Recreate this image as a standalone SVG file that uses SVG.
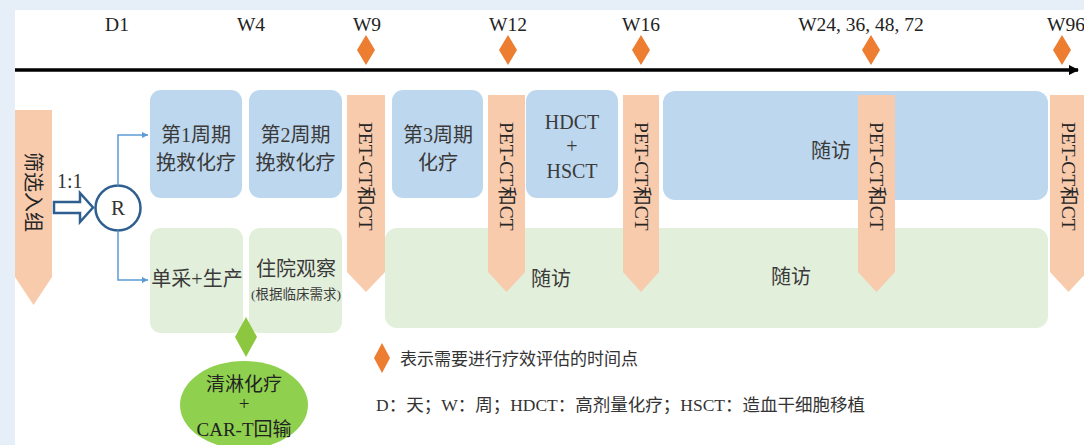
<svg xmlns="http://www.w3.org/2000/svg" width="1084" height="445" viewBox="0 0 1084 445">
<defs>
<style>
.t{font-family:"Liberation Serif","Noto Sans CJK SC",serif;fill:#333;}
.lab{font-size:19.5px;text-anchor:middle;fill:#222;}
.box{font-size:20px;text-anchor:middle;fill:#3a3a3a;}
.blue{fill:#bdd7ee;}
.green{fill:#e2efda;}
.pet{fill:#f8cbad;}
.pettxt{font-size:19.5px;fill:#262626;}
.dia{fill:#ed7d31;}
.conn{fill:none;stroke:#5b9bd5;stroke-width:1.5;}
</style>
<marker id="ah" markerWidth="8" markerHeight="8" refX="6" refY="4" orient="auto" markerUnits="userSpaceOnUse">
<path d="M0,1 L6,4 L0,7 Z" fill="#5b9bd5"/>
</marker>
<marker id="tl" markerWidth="12" markerHeight="12" refX="9" refY="6" orient="auto" markerUnits="userSpaceOnUse">
<path d="M0,1 L10,6 L0,11 Z" fill="#000"/>
</marker>
</defs>
<rect x="0" y="0" width="1084" height="445" fill="#e6eef7"/>
<rect x="15" y="10" width="1069" height="435" fill="#ffffff"/>

<g id="timeline">
<line x1="15" y1="70" x2="1078" y2="70" stroke="#000" stroke-width="3.5" marker-end="url(#tl)"/>
<text class="t lab" x="117" y="31">D1</text>
<text class="t lab" x="251" y="31">W4</text>
<text class="t lab" x="367" y="31">W9</text>
<text class="t lab" x="508" y="31">W12</text>
<text class="t lab" x="641" y="31">W16</text>
<text class="t lab" x="861" y="31">W24, 36, 48, 72</text>
<text class="t lab" x="1066" y="31">W96</text>
<path class="dia" d="M366,35 L375,50 L366,65 L357,50 Z"/>
<path class="dia" d="M508,35 L517,50 L508,65 L499,50 Z"/>
<path class="dia" d="M641,35 L650,50 L641,65 L632,50 Z"/>
<path class="dia" d="M871,35 L880,50 L871,65 L862,50 Z"/>
<path class="dia" d="M1062,35 L1071,50 L1062,65 L1053,50 Z"/>
</g>

<g id="screening">
<path class="pet" d="M15,110 L52,110 L52,277 L33.5,305 L15,277 Z"/>
<text class="t pettxt" transform="translate(26,152) rotate(90)" style="font-size:20px">筛选入组</text>
</g>

<g id="split">
<path d="M54,202 L80,202 L80,193 L93,207.5 L80,222 L80,213 L54,213 Z" fill="#fff" stroke="#2e5f8f" stroke-width="2.5" stroke-linejoin="miter"/>
<text class="t" x="57" y="188" style="font-size:20px">1:1</text>
</g>

<g id="R">
<circle cx="118" cy="208" r="22.5" fill="#fff" stroke="#2e5f8f" stroke-width="2.5"/>
<text class="t" x="118" y="215" style="font-size:21px" text-anchor="middle">R</text>
</g>

<g id="connectors">
<path class="conn" d="M118,185.5 L118,135 L148,135" marker-end="url(#ah)"/>
<path class="conn" d="M118,230.5 L118,280 L148,280" marker-end="url(#ah)"/>
</g>

<g id="c1">
<rect class="blue" x="150" y="90" width="92" height="108" rx="11"/>
<text class="t box" x="196" y="142">第1周期</text>
<text class="t box" x="196" y="170">挽救化疗</text>
</g>
<g id="c2">
<rect class="blue" x="249" y="90" width="93" height="108" rx="11"/>
<text class="t box" x="295.5" y="142">第2周期</text>
<text class="t box" x="295.5" y="170">挽救化疗</text>
</g>
<g id="apheresis">
<rect class="green" x="150" y="228" width="93" height="105" rx="11"/>
<text class="t box" x="197" y="286">单采+生产</text>
</g>
<g id="observe">
<rect class="green" x="249" y="228" width="93" height="105" rx="11"/>
<text class="t box" x="296" y="276">住院观察</text>
<text class="t box" x="296" y="299" style="font-size:13.5px">(根据临床需求)</text>
</g>

<g id="c3">
<rect class="blue" x="392" y="90" width="91" height="108" rx="11"/>
<text class="t box" x="438" y="142">第3周期</text>
<text class="t box" x="438" y="170">化疗</text>
</g>
<g id="hdct">
<rect class="blue" x="526" y="90" width="92" height="108" rx="11"/>
<text class="t box" x="572" y="129">HDCT</text>
<text class="t box" x="572" y="153">+</text>
<text class="t box" x="572" y="178">HSCT</text>
</g>
<g id="fu-blue">
<rect class="blue" x="663" y="91" width="385" height="109" rx="12"/>
<text class="t box" x="831" y="158">随访</text>
</g>
<g id="fu-green">
<rect class="green" x="385" y="228" width="663" height="100" rx="12"/>
<text class="t box" x="551" y="286">随访</text>
<text class="t box" x="791" y="284">随访</text>
</g>

<g id="pet1">
<path class="pet" d="M347,95 L385,95 L385,272 L366,292 L347,272 Z"/>
<text class="t pettxt" transform="translate(359,122) rotate(90)">PET-CT和CT</text>
</g>
<g id="pet2">
<path class="pet" d="M488,95 L525,95 L525,272 L506.5,292 L488,272 Z"/>
<text class="t pettxt" transform="translate(500,122) rotate(90)">PET-CT和CT</text>
</g>
<g id="pet3">
<path class="pet" d="M623,95 L659,95 L659,272 L641,292 L623,272 Z"/>
<text class="t pettxt" transform="translate(634.5,122) rotate(90)">PET-CT和CT</text>
</g>
<g id="pet4">
<path class="pet" d="M858,95 L895,95 L895,272 L876.5,292 L858,272 Z"/>
<text class="t pettxt" transform="translate(870,122) rotate(90)">PET-CT和CT</text>
</g>
<g id="pet5">
<path class="pet" d="M1050,95 L1087,95 L1087,272 L1068.5,292 L1050,272 Z"/>
<text class="t pettxt" transform="translate(1062,122) rotate(90)">PET-CT和CT</text>
</g>

<g id="cart">
<path d="M246,317 L257,337 L246,357 L235,337 Z" fill="#8dc63f"/>
<ellipse cx="244" cy="405" rx="64" ry="44" fill="#8fd14f"/>
<text class="t box" x="244" y="391" style="font-size:19px;fill:#222">清淋化疗</text>
<text class="t box" x="244" y="410" style="font-size:19px;fill:#222">+</text>
<text class="t box" x="244" y="436" style="font-size:19px;fill:#222">CAR-T回输</text>
</g>

<g id="legend">
<path class="dia" d="M382,343 L390,358 L382,373 L374,358 Z"/>
<text class="t" x="400" y="365" style="font-size:17px">表示需要进行疗效评估的时间点</text>
<text class="t" x="376" y="411" style="font-size:17.5px">D：天；W：周；HDCT：高剂量化疗；HSCT：造血干细胞移植</text>
</g>
</svg>
